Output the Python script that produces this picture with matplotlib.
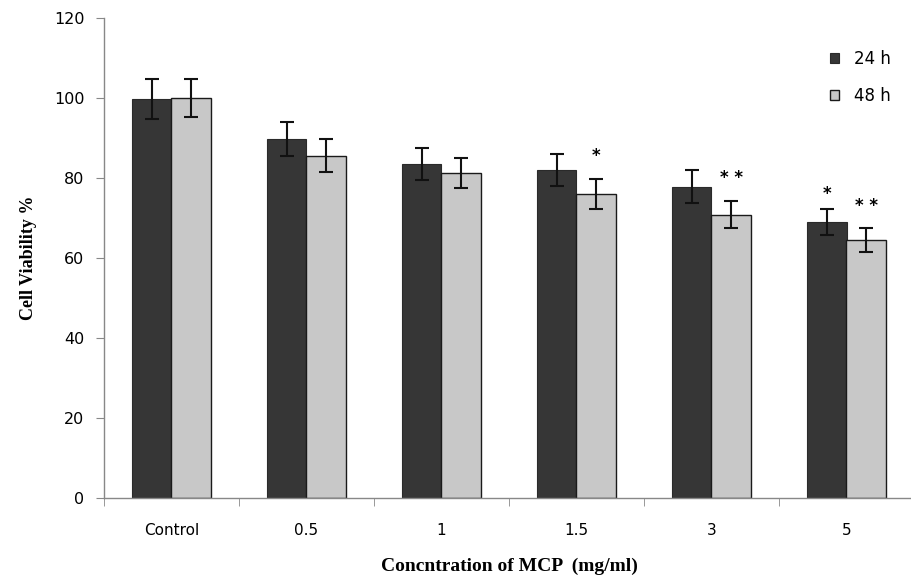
import numpy as np
import matplotlib
matplotlib.use("Agg")
import matplotlib.pyplot as plt

# data
categories = ["Control", "0.5", "1", "1.5", "3", "5"]
viab_24h = [99.7, 89.8, 83.5, 82.0, 77.8, 69.0]
viab_48h = [100.0, 85.6, 81.2, 76.0, 70.8, 64.5]
err_24h = [5.0, 4.3, 4.0, 4.0, 4.1, 3.3]
err_48h = [4.8, 4.1, 3.7, 3.7, 3.4, 2.9]
stars_24h = ["", "", "", "", "", "*"]
stars_48h = ["", "", "", "*", "* *", "* *"]

plt.rcParams["font.family"] = ["DejaVu Sans"]

fig = plt.figure(figsize=(9.12, 5.77), dpi=100)
ax = fig.add_axes([104 / 912, 79 / 577, 810 / 912, 480 / 577])

x = np.arange(len(categories))
w = 0.29
ax.bar(x - w / 2, viab_24h, w, color="#363636", edgecolor="#2a2a2a", linewidth=0.8,
       label="24 h", zorder=2)
ax.bar(x + w / 2, viab_48h, w, color="#c8c8c8", edgecolor="#1a1a1a", linewidth=1.0,
       label="48 h", zorder=2)
ax.errorbar(x - w / 2, viab_24h, yerr=err_24h, fmt="none", ecolor="#111111",
            elinewidth=1.5, capsize=5, capthick=1.5, zorder=3)
ax.errorbar(x + w / 2, viab_48h, yerr=err_48h, fmt="none", ecolor="#111111",
            elinewidth=1.5, capsize=5, capthick=1.5, zorder=3)

# significance marks
for i in range(len(categories)):
    if stars_24h[i]:
        ax.annotate(stars_24h[i], (x[i] - w / 2, viab_24h[i] + err_24h[i]),
                    xytext=(0, 4), textcoords="offset points", ha="center",
                    va="bottom", fontsize=12, fontweight="bold")
    if stars_48h[i]:
        ax.annotate(stars_48h[i], (x[i] + w / 2, viab_48h[i] + err_48h[i]),
                    xytext=(0, 10), textcoords="offset points", ha="center",
                    va="bottom", fontsize=12, fontweight="bold")

ax.set_xlim(-0.5, len(categories) - 0.5)
ax.set_ylim(0, 120)
ax.set_yticks(np.arange(0, 121, 20))
ax.set_xticks(x)
ax.set_xticklabels(categories)
ax.set_xticks(np.arange(-0.5, len(categories), 1), minor=True)
ax.tick_params(axis="x", which="major", length=0, pad=18, labelsize=11)
ax.tick_params(axis="x", which="minor", length=6, color="#888888", direction="out")
ax.tick_params(axis="y", length=6, color="#888888", labelsize=11.5, pad=8)

for s in ["top", "right"]:
    ax.spines[s].set_visible(False)
for s in ["left", "bottom"]:
    ax.spines[s].set_color("#888888")
    ax.spines[s].set_linewidth(1.0)

ax.set_ylabel("Cell Viability %", family="Liberation Serif", fontweight="bold",
              fontsize=13, labelpad=12)
ax.set_xlabel("Concntration of MCP  (mg/ml)", family="Liberation Serif",
              fontweight="bold", fontsize=14, labelpad=14)

ax.legend(loc="upper right", bbox_to_anchor=(0.99, 0.965), frameon=False,
          fontsize=12, handlelength=0.55, handleheight=0.55, labelspacing=1.15,
          handletextpad=0.9)

fig.savefig("out.png", dpi=100)
